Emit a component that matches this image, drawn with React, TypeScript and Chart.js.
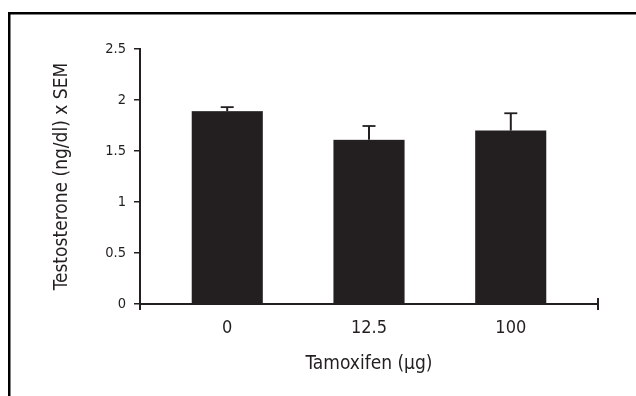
import React, { useEffect, useRef } from "react";
import { Chart, registerables } from "chart.js";

Chart.register(...registerables);

const categories = ["0", "12.5", "100"];
const means = [1.89, 1.61, 1.70];
const sems = [0.04, 0.135, 0.17];
const yTickValues = [0, 0.5, 1, 1.5, 2, 2.5];
const yTickLabels = ["0", "0.5", "1", "1.5", "2", "2.5"];

const INK = "#231f20";
const FONT = "'Liberation Sans Narrow', 'DejaVu Sans Condensed', 'Roboto Condensed', 'Noto Sans', sans-serif";

const framePlugin = {
  id: "frame",
  beforeDraw(chart: any) {
    const ctx = chart.ctx;
    ctx.save();
    ctx.fillStyle = "#ffffff";
    ctx.fillRect(0, 0, chart.width, chart.height);
    ctx.strokeStyle = "#000000";
    ctx.lineWidth = 2.5;
    ctx.beginPath();
    ctx.moveTo(9.25, chart.height + 10);
    ctx.lineTo(9.25, 13.25);
    ctx.lineTo(chart.width + 10, 13.25);
    ctx.stroke();
    ctx.restore();
  },
};

const errorBarPlugin = {
  id: "errorBars",
  afterDatasetsDraw(chart: any) {
    const ctx = chart.ctx;
    const yScale = chart.scales.y;
    const meta = chart.getDatasetMeta(0);
    ctx.save();
    ctx.strokeStyle = INK;
    meta.data.forEach((bar: any, i: number) => {
      const x = bar.x;
      const yTop = yScale.getPixelForValue(means[i]);
      const yCap = yScale.getPixelForValue(means[i] + sems[i]);
      ctx.lineWidth = 2;
      ctx.beginPath();
      ctx.moveTo(x, yTop);
      ctx.lineTo(x, yCap);
      ctx.stroke();
      ctx.lineWidth = 1.8;
      ctx.beginPath();
      ctx.moveTo(x - 6.5, yCap);
      ctx.lineTo(x + 6.5, yCap);
      ctx.stroke();
    });
    ctx.restore();
  },
  afterDraw(chart: any) {
    const ctx = chart.ctx;
    const area = chart.chartArea;
    ctx.save();
    ctx.strokeStyle = INK;
    ctx.lineWidth = 2;
    ctx.beginPath();
    ctx.moveTo(area.left, area.bottom - 1);
    ctx.lineTo(area.left, area.bottom + 6);
    ctx.moveTo(area.right, area.bottom - 6);
    ctx.lineTo(area.right, area.bottom + 6);
    ctx.stroke();
    ctx.restore();
  },
};

export default function App() {
  const ref = useRef<HTMLCanvasElement | null>(null);
  useEffect(() => {
    if (!ref.current) return;
    const chart = new Chart(ref.current, {
      type: "bar",
      data: {
        datasets: [
          {
            data: means.map((m, i) => ({ x: i, y: m })),
            backgroundColor: INK,
            borderColor: "#6d6a6b",
            borderWidth: 0.6,
            barThickness: 71,
          },
        ],
      },
      plugins: [framePlugin, errorBarPlugin],
      options: {
        responsive: false,
        animation: false,
        events: [],
        layout: { padding: { top: 49, right: 38, left: 0, bottom: 0 } },
        plugins: { legend: { display: false }, tooltip: { enabled: false } },
        scales: {
          x: {
            type: "linear",
            offset: false,
            min: -0.615,
            max: 2.615,
            afterBuildTicks: (scale: any) => {
              scale.ticks = categories.map((_, i) => ({ value: i }));
            },
            afterFit: (scale: any) => {
              scale.height = 92;
            },
            ticks: {
              callback: (_v: any, i: number) => categories[i],
              color: INK,
              font: { family: FONT, size: 18 },
              padding: 14,
              maxRotation: 0,
              autoSkip: false,
            },
            grid: { display: false, drawTicks: false },
            border: { display: true, color: INK, width: 2 },
            title: {
              display: true,
              text: "Tamoxifen (µg)",
              color: INK,
              font: { family: FONT, size: 19 },
              padding: { top: 0, bottom: 20.5 },
            },
          },
          y: {
            min: 0,
            max: 2.5,
            afterBuildTicks: (scale: any) => {
              scale.ticks = yTickValues.map((v) => ({ value: v }));
            },
            afterFit: (scale: any) => {
              scale.width = 140;
            },
            ticks: {
              callback: (_v: any, i: number) => yTickLabels[i],
              color: INK,
              font: { family: FONT, size: 14.5 },
              padding: 8,
            },
            grid: {
              display: true,
              drawOnChartArea: false,
              drawTicks: true,
              tickLength: 6,
              color: INK,
              lineWidth: 1.5,
            },
            border: { display: true, color: INK, width: 2 },
            title: {
              display: true,
              text: "Testosterone (ng/dl) x SEM",
              color: INK,
              font: { family: FONT, size: 19 },
              padding: { top: 50.5, bottom: 0 },
            },
          },
        },
      },
    });
    return () => chart.destroy();
  }, []);
  return (
    <div style={{ position: "fixed", left: 0, top: 0, width: 636, height: 396, overflow: "hidden", background: "#fff" }}>
      <canvas ref={ref} width={636} height={396} style={{ display: "block", width: 636, height: 396 }} />
    </div>
  );
}
